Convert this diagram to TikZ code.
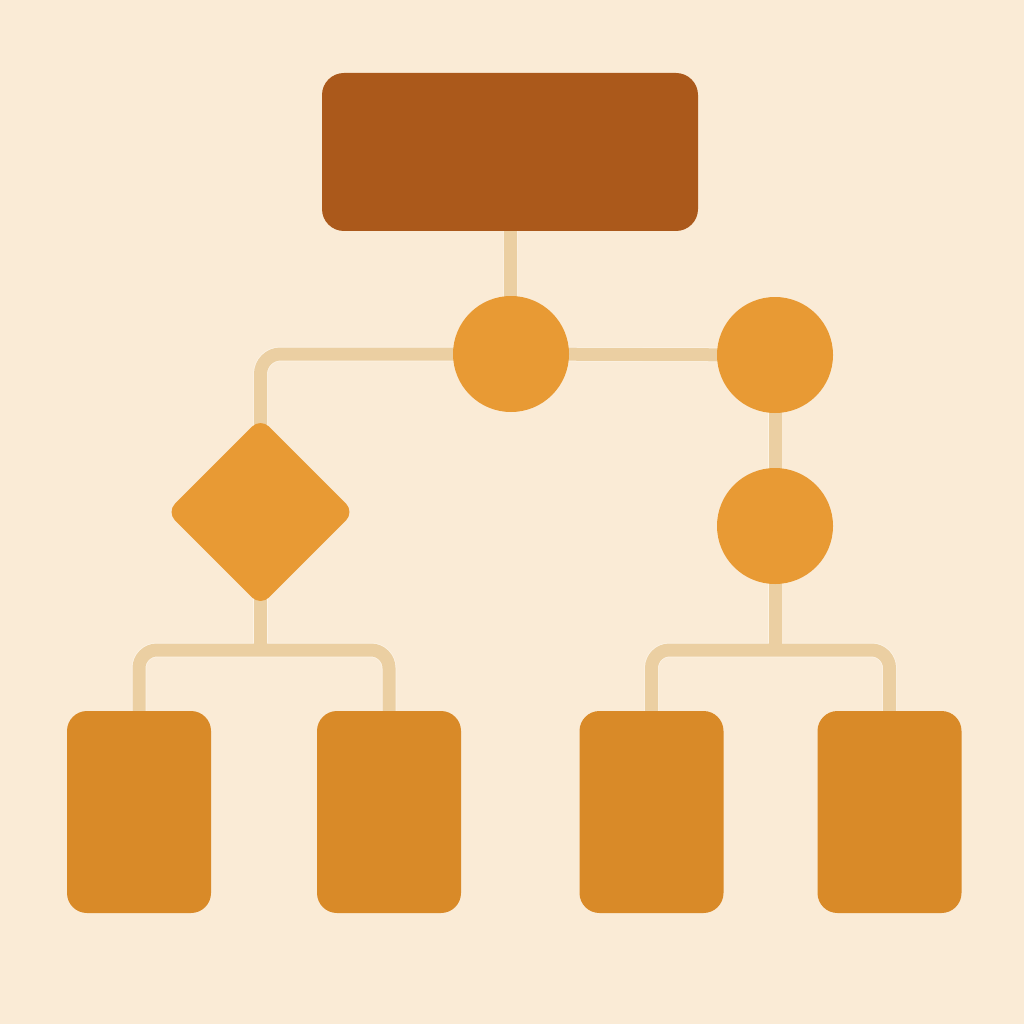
\documentclass[tikz,border=0pt]{standalone}
\usetikzlibrary{shapes.geometric,backgrounds}
\definecolor{bgc}{HTML}{FAEBD6}
\definecolor{topc}{HTML}{AB591B}
\definecolor{roundc}{HTML}{E89A34}
\definecolor{leafc}{HTML}{D98A28}
\definecolor{linec}{HTML}{EBCFA2}
\definecolor{haloc}{HTML}{FDF4E6}
\tikzset{
  shapebase/.style={inner sep=0pt, draw=none},
  topbox/.style={shapebase, rectangle, fill=topc, minimum width=376pt, minimum height=158pt, rounded corners=22pt},
  roundnode/.style={shapebase, circle, fill=roundc, minimum size=116pt},
  decnode/.style={shapebase, diamond, fill=roundc, minimum width=188pt, minimum height=188pt, rounded corners=12pt},
  leafbox/.style={shapebase, rectangle, fill=leafc, minimum width=144pt, minimum height=202pt, rounded corners=20pt},
}
\begin{document}
\begin{tikzpicture}[x=1pt,y=-1pt]
\useasboundingbox (0,0) rectangle (1024,1024);
\node[topbox] (top) at (510,152) {};
\node[roundnode] (c1) at (511,354) {};
\node[roundnode] (c2) at (775,355) {};
\node[roundnode] (c3) at (775,526) {};
\node[decnode] (dia) at (260.5,512) {};
\node[leafbox] (r1) at (139,812) {};
\node[leafbox] (r2) at (389,812) {};
\node[leafbox] (r3) at (651.5,812) {};
\node[leafbox] (r4) at (889.5,812) {};
\coordinate (lj) at (260.5,650);
\coordinate (rj) at (775,650);
\begin{pgfonlayer}{background}
\fill[bgc] (0,0) rectangle (1024,1024);
\foreach \w/\c in {14.5pt/haloc, 13pt/linec}{
  \draw[line width=\w, draw=\c] (top.center) -- (c1.center);
  \draw[line width=\w, draw=\c] (c1.center) -- (c2.center);
  \draw[line width=\w, draw=\c] (c2.center) -- (c3.center);
  \draw[line width=\w, draw=\c, rounded corners=20pt] (c1.center) -| (dia.center);
  \draw[line width=\w, draw=\c] (dia.center) -- (lj);
  \draw[line width=\w, draw=\c] (c3.center) -- (rj);
  \draw[line width=\w, draw=\c, rounded corners=18pt] (r1.center) |- (lj) -| (r2.center);
  \draw[line width=\w, draw=\c, rounded corners=18pt] (r3.center) |- (rj) -| (r4.center);
}
\end{pgfonlayer}
\end{tikzpicture}
\end{document}
